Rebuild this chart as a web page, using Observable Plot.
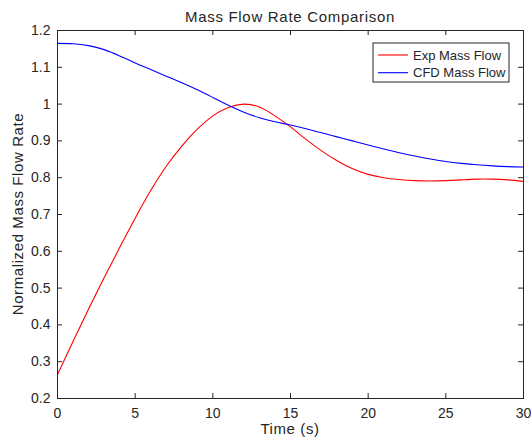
<!DOCTYPE html>
<html><head><meta charset="utf-8">
<script src="https://cdn.jsdelivr.net/npm/d3@7"></script>
<script src="https://cdn.jsdelivr.net/npm/@observablehq/plot@0.6"></script>
<style>body{margin:0;background:#fff}</style>
</head><body><div id="chart"></div>
<script>
const time = [0,1,2,3,4,5,6,7,8,9,10,11,12,13,14,15,16,17,18,19,20,21,22,23,24,25,26,27,28,29,30];
const expFlow = [0.265,0.355,0.443,0.528,0.610,0.690,0.765,0.831,0.886,0.932,0.968,0.991,1.0,0.992,0.968,0.938,0.904,0.873,0.846,0.824,0.809,0.800,0.795,0.792,0.791,0.792,0.794,0.796,0.796,0.794,0.790];
const cfdFlow = [1.165,1.164,1.159,1.148,1.131,1.112,1.094,1.076,1.058,1.039,1.018,0.997,0.978,0.963,0.952,0.943,0.933,0.922,0.911,0.900,0.889,0.878,0.868,0.859,0.851,0.844,0.839,0.835,0.832,0.830,0.829];
const xTicks = [0,5,10,15,20,25,30];
const yTicks = [0.2,0.3,0.4,0.5,0.6,0.7,0.8,0.9,1.0,1.1,1.2];
const seriesNames = ["Exp Mass Flow","CFD Mass Flow"];
const seriesColors = ["#ff0000","#0000ff"];
const titleText = "Mass Flow Rate Comparison";
const xLabel = "Time (s)";
const yLabel = "Normalized Mass Flow Rate";

const rows = [];
time.forEach((t,i)=>{
  rows.push({t, v: expFlow[i], s: seriesNames[0]});
  rows.push({t, v: cfdFlow[i], s: seriesNames[1]});
});

const ink = "#262626";
const W = 531, H = 445, mL = 57, mR = 8, mT = 30, mB = 47;
const fw = W - mL - mR, fh = H - mT - mB, tick = 5;
const fmt = d => String(+(+d).toFixed(1));

const plot = Plot.plot({
  width: W, height: H, marginLeft: mL, marginRight: mR, marginTop: mT, marginBottom: mB,
  style: {fontFamily: "'Liberation Sans', Arial, sans-serif", fontSize: "14px", color: ink, background: "#fff"},
  x: {domain: [0, 30]},
  y: {domain: [0.2, 1.2]},
  color: {domain: seriesNames, range: seriesColors},
  marks: [
    Plot.axisX(xTicks, {anchor: "bottom", tickSize: 0, tickPadding: 10, label: null, tickFormat: fmt, fill: ink}),
    Plot.axisY(yTicks, {anchor: "left", tickSize: 0, tickPadding: 7, label: null, tickFormat: fmt, fill: ink}),
    Plot.ruleX(xTicks, {x: d => d, insetTop: fh - tick, stroke: ink}),
    Plot.ruleX(xTicks, {x: d => d, insetBottom: fh - tick, stroke: ink}),
    Plot.ruleY(yTicks, {y: d => d, insetRight: fw - tick, stroke: ink}),
    Plot.ruleY(yTicks, {y: d => d, insetLeft: fw - tick, stroke: ink}),
    Plot.line(rows, {x: "t", y: "v", z: "s", stroke: "s", strokeWidth: 1.1, curve: "natural"}),
    Plot.frame({stroke: ink, strokeWidth: 1})
  ]
});
document.getElementById("chart").appendChild(plot);

const svg = d3.select(plot);
const cx = mL + fw / 2;
svg.append("text").attr("x", cx).attr("y", 22).attr("text-anchor", "middle")
  .attr("font-size", 15).attr("letter-spacing", "0.7px").attr("fill", ink).text(titleText);
svg.append("text").attr("x", cx).attr("y", 434).attr("text-anchor", "middle")
  .attr("font-size", 15).attr("letter-spacing", "0.6px").attr("fill", ink).text(xLabel);
svg.append("text").attr("transform", `translate(23,${mT + fh / 2}) rotate(-90)`)
  .attr("text-anchor", "middle").attr("font-size", 15).attr("letter-spacing", "0.6px").attr("fill", ink).text(yLabel);

const lg = svg.append("g").attr("transform", "translate(373,43)");
lg.append("rect").attr("width", 136).attr("height", 39).attr("fill", "#fff").attr("stroke", ink).attr("stroke-width", 1);
seriesNames.forEach((n, i) => {
  const y = 12 + i * 17.7;
  lg.append("line").attr("x1", 5).attr("x2", 35).attr("y1", y).attr("y2", y).attr("stroke", seriesColors[i]).attr("stroke-width", 1.1);
  lg.append("text").attr("x", 40).attr("y", y).attr("dy", "0.35em").attr("text-anchor", "start")
    .attr("font-size", 13).attr("fill", ink).text(n);
});
</script>
</body></html>
